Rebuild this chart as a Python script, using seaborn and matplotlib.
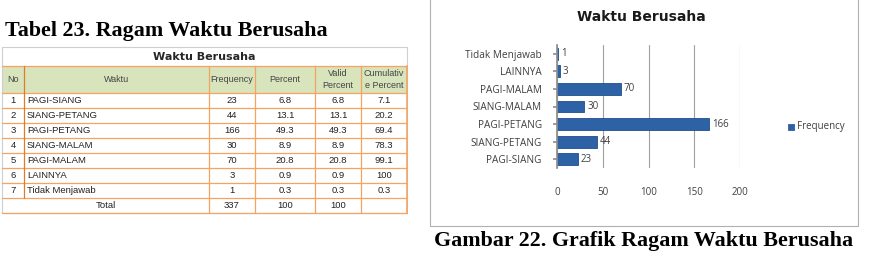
import matplotlib
matplotlib.use("Agg")
import matplotlib.pyplot as plt
import seaborn as sns
import pandas as pd
from matplotlib.patches import Rectangle

# ---- data ----
row_no = ["1", "2", "3", "4", "5", "6", "7"]
waktu = ["PAGI-SIANG", "SIANG-PETANG", "PAGI-PETANG", "SIANG-MALAM",
         "PAGI-MALAM", "LAINNYA", "Tidak Menjawab"]
frequency = [23, 44, 166, 30, 70, 3, 1]
percent = ["6.8", "13.1", "49.3", "8.9", "20.8", "0.9", "0.3"]
valid_percent = ["6.8", "13.1", "49.3", "8.9", "20.8", "0.9", "0.3"]
cumulative_percent = ["7.1", "20.2", "69.4", "78.3", "99.1", "100", "0.3"]
total_row = ["Total", "337", "100", "100", ""]
headers = ["No", "Waktu", "Frequency", "Percent", "Valid\nPercent", "Cumulativ\ne Percent"]
x_ticks = [0, 50, 100, 150, 200]

sns.set_theme(style="white")
plt.rcParams["font.family"] = ["Liberation Sans", "DejaVu Sans"]

fig = plt.figure(figsize=(8.75, 2.6), dpi=100)
bg = fig.add_axes([0, 0, 1, 1])
bg.set_xlim(0, 875)
bg.set_ylim(260, 0)
bg.axis("off")

serif = ["Liberation Serif", "DejaVu Serif"]
bg.text(5, 36, "Tabel 23. Ragam Waktu Berusaha", fontsize=15.8, fontweight="bold",
        family=serif, ha="left", va="baseline", color="black")
bg.text(644, 246, "Gambar 22. Grafik Ragam Waktu Berusaha", fontsize=15.8, fontweight="bold",
        family=serif, ha="center", va="baseline", color="black")

# ---- table ----
cols = [2, 24, 209, 255, 315, 361, 407]
orange = "#f4a460"
dark_or = "#e07b2a"
t_top, title_bot, head_bot = 47, 66, 93
row_h = 15.0
n = len(waktu)
t_bot = head_bot + row_h * (n + 1)

bg.add_patch(Rectangle((cols[0], title_bot), cols[-1] - cols[0], head_bot - title_bot,
                       facecolor="#d8e4bc", edgecolor="none"))
bg.add_patch(Rectangle((cols[0], t_top), cols[-1] - cols[0], t_bot - t_top,
                       facecolor="none", edgecolor="#cfcfcf", lw=0.8))
bg.text((cols[0] + cols[-1]) / 2, (t_top + title_bot) / 2 + 1, "Waktu Berusaha",
        fontsize=8, fontweight="bold", ha="center", va="center", family=["DejaVu Sans"])
for y in [title_bot, head_bot] + [head_bot + row_h * i for i in range(1, n + 2)]:
    bg.plot([cols[0], cols[-1]], [y, y], color=orange, lw=0.9)
for i, x in enumerate(cols[1:-1], start=1):
    if i == 1:
        bg.plot([x, x], [title_bot, head_bot + row_h * n], color=dark_or, lw=0.9)
    else:
        bg.plot([x, x], [title_bot, t_bot], color=orange, lw=0.9)
bg.plot([cols[-1], cols[-1]], [title_bot, t_bot], color=orange, lw=1.2)

fs = 6.8
hc = (title_bot + head_bot) / 2
for j, h in enumerate(headers):
    bg.text((cols[j] + cols[j + 1]) / 2, hc, h, fontsize=6.5, ha="center", va="center",
            color="#444444", linespacing=1.5)
for i in range(n):
    yc = head_bot + row_h * i + row_h / 2
    bg.text((cols[0] + cols[1]) / 2, yc, row_no[i], fontsize=fs, ha="center", va="center", color="#222222")
    bg.text(cols[1] + 3, yc, waktu[i], fontsize=fs, ha="left", va="center", color="#222222")
    vals = [str(frequency[i]), percent[i], valid_percent[i], cumulative_percent[i]]
    for k, v in enumerate(vals):
        bg.text((cols[k + 2] + cols[k + 3]) / 2, yc, v, fontsize=fs, ha="center", va="center", color="#222222")
yc = head_bot + row_h * n + row_h / 2
bg.text((cols[0] + cols[2]) / 2, yc, total_row[0], fontsize=fs, ha="center", va="center", color="#222222")
for k, v in enumerate(total_row[1:]):
    bg.text((cols[k + 2] + cols[k + 3]) / 2, yc, v, fontsize=fs, ha="center", va="center", color="#222222")

# ---- chart frame ----
bg.add_patch(Rectangle((430, -2), 428, 228, facecolor="none", edgecolor="#b0b0b0", lw=0.8))
bg.text(641, 21, "Waktu Berusaha", fontsize=10, fontweight="bold", ha="center", va="baseline",
        family=["DejaVu Sans"], color="#1a1a1a")

# ---- bar chart ----
df = pd.DataFrame({"Waktu": waktu, "Frequency": frequency})
order = waktu[::-1]
ax = fig.add_axes([557 / 875, 1 - 168 / 260, 183 / 875, 123 / 260])
sns.barplot(data=df, x="Frequency", y="Waktu", order=order, color="#2d62a6",
            width=0.68, ax=ax, saturation=1, edgecolor="#1f4f8a", linewidth=0.6)
ax.set_xlim(0, 200)
ax.set_xticks(x_ticks)
ax.set_xticklabels([str(t) for t in x_ticks])
ax.set_xlabel("")
ax.set_ylabel("")
ax.grid(axis="x", color="#a0a0a0", lw=0.8)
ax.set_axisbelow(True)
for s in ["top", "right", "bottom"]:
    ax.spines[s].set_visible(False)
ax.spines["left"].set_color("#909090")
ax.tick_params(axis="y", labelsize=7.2, colors="#404040", length=3, left=True, color="#909090", pad=8)
ax.tick_params(axis="x", labelsize=7, colors="#404040", length=0, pad=14)
for lbl in ax.get_yticklabels():
    lbl.set_family(["Open Sans", "DejaVu Sans"])
for lbl in ax.get_xticklabels():
    lbl.set_family(["Open Sans", "DejaVu Sans"])
ax.bar_label(ax.containers[0], labels=[str(v) for v in df.set_index("Waktu").loc[order, "Frequency"]],
             fontsize=7, color="#404040", padding=2, family=["Open Sans", "DejaVu Sans"])

# legend
bg.add_patch(Rectangle((788, 124), 6, 6, facecolor="#2d62a6", edgecolor="#1f4f8a", lw=0.5))
bg.text(797, 127, "Frequency", fontsize=7, ha="left", va="center", color="#404040",
        family=["Open Sans", "DejaVu Sans"])

fig.savefig("out.png", dpi=100)
